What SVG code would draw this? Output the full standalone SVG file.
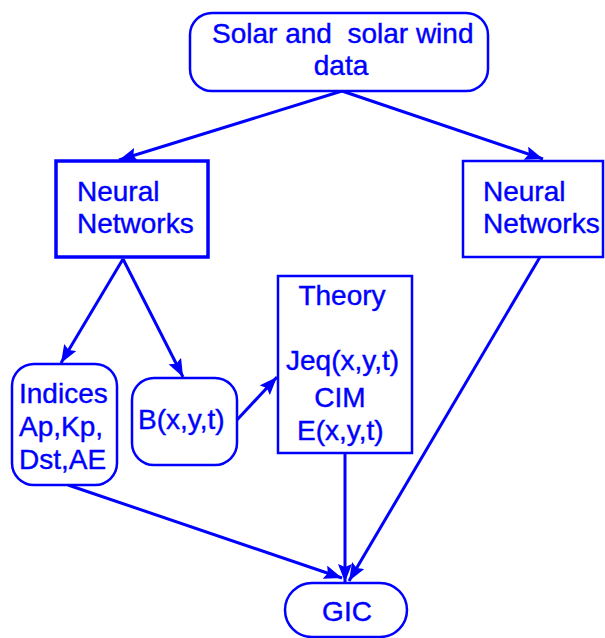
<svg xmlns="http://www.w3.org/2000/svg" width="605" height="638" viewBox="0 0 605 638">
<style>
.box{fill:#fff;stroke:#0000ff;stroke-width:2.5}
.thick{stroke-width:3.5}
.t{font-family:"Liberation Sans",Arial,sans-serif;font-size:28px;fill:#0000ff;stroke:#0000ff;stroke-width:0.4}
.c{text-anchor:middle}
.edge{stroke:#0000ff;stroke-width:3;fill:none;marker-end:url(#ah)}
</style>
<defs>
<marker id="ah" markerUnits="userSpaceOnUse" markerWidth="20" markerHeight="16" refX="18" refY="7" orient="auto">
<path d="M0,0 L18,7 L0,14 L3,7 z" fill="#0000ff"/>
</marker>
</defs>
<g id="connectors">
<line class="edge" x1="342" y1="91" x2="119" y2="160"/>
<line class="edge" x1="342" y1="91" x2="543" y2="159"/>
<line class="edge" x1="123" y1="259" x2="61" y2="363"/>
<line class="edge" x1="123" y1="259" x2="183" y2="377"/>
<line class="edge" x1="236" y1="421" x2="277" y2="377"/>
<line class="edge" x1="68" y1="485" x2="342" y2="578"/>
<line class="edge" x1="345" y1="453" x2="345" y2="582"/>
<line class="edge" x1="540" y1="257" x2="349" y2="581"/>
</g>
<g id="solar">
<rect class="box" x="190" y="13" width="298" height="78" rx="22"/>
<text class="t" x="212" y="43" xml:space="preserve">Solar and  solar wind</text>
<text class="t c" x="341" y="75">data</text>
</g>
<g id="nn-left">
<rect class="box thick" x="56" y="161" width="152" height="96"/>
<text class="t" x="77" y="201">Neural</text>
<text class="t" x="77" y="233">Networks</text>
</g>
<g id="nn-right">
<rect class="box" x="463" y="161" width="140" height="96"/>
<text class="t" x="483" y="201">Neural</text>
<text class="t" x="483" y="233">Networks</text>
</g>
<g id="indices">
<rect class="box" x="12" y="364" width="105" height="121" rx="22"/>
<text class="t" x="19" y="403">Indices</text>
<text class="t" x="19" y="436">Ap,Kp,</text>
<text class="t" x="19" y="469">Dst,AE</text>
</g>
<g id="bfield">
<rect class="box" x="132" y="378" width="105" height="87" rx="22"/>
<text class="t" x="138" y="429">B(x,y,t)</text>
</g>
<g id="theory">
<rect class="box" x="278" y="276" width="134" height="177"/>
<text class="t c" x="342" y="305">Theory</text>
<text class="t" x="286" y="370">Jeq(x,y,t)</text>
<text class="t c" x="340" y="407">CIM</text>
<text class="t" x="297" y="440">E(x,y,t)</text>
</g>
<g id="gic">
<rect class="box" x="285" y="583" width="122" height="54" rx="27"/>
<text class="t c" x="347" y="621">GIC</text>
</g>
</svg>
